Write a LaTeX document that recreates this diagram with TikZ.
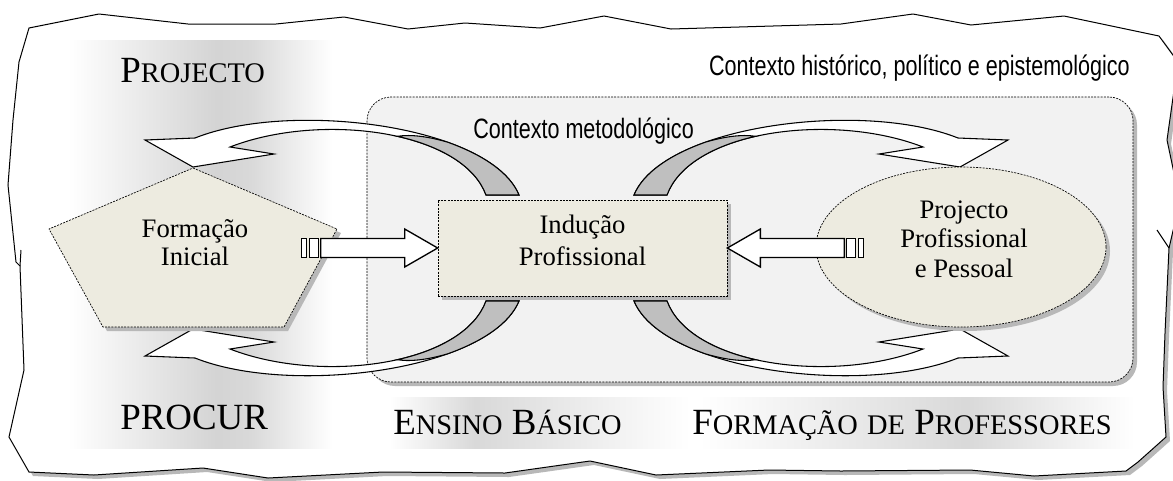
\documentclass[tikz,border=0pt]{standalone}
\usepackage{fontspec}
\setmainfont{Liberation Serif}
\newfontfamily\ctxfont[FakeStretch=0.77]{Liberation Sans}
\usetikzlibrary{shapes.geometric,shadows}
\definecolor{nodefill}{RGB}{237,235,224}
\definecolor{ctxfill}{RGB}{242,242,242}
\pgfdeclarehorizontalshading{sideband}{100bp}{color(0bp)=(white); color(27bp)=(white); color(54bp)=(black!17); color(60bp)=(black!15); color(75bp)=(white); color(100bp)=(white)}
\pgfdeclarehorizontalshading{bandA}{100bp}{color(0bp)=(white); color(26bp)=(white); color(40bp)=(black!15); color(75bp)=(white); color(100bp)=(white)}
\pgfdeclarehorizontalshading{bandB}{100bp}{color(0bp)=(white); color(26bp)=(white); color(56bp)=(black!15); color(75bp)=(white); color(100bp)=(white)}
\newcommand{\capsc}[2]{{\fontsize{27.7}{30}\selectfont #1}{\fontsize{21.3}{30}\selectfont #2}}
\newcommand{\ribbonarrow}[1]{% transform of the scope
\begin{scope}[#1]
  \draw[ribbon] (145,140) -- (195,138) .. controls (290,100) and (490,125) .. (519,195)
    -- (486,195) .. controls (462,130) and (320,112) .. (230,147) -- (274,154) -- (193,167) -- cycle;
  \draw[ribbonback] (397.4,136.3) .. controls (440.5,146) and (475.2,165.75) .. (486,195)
    -- (519,195) .. controls (509.7,172.6) and (482.9,154.8) .. (447.7,142.2)
    .. controls (430,137) and (412,134) .. cycle;
\end{scope}
}
\tikzset{barrow/.pic={
  \draw[blockarrow] (0,0) -- (-33,-19) -- (-33,-9.5) -- (-117,-9.5) -- (-117,9.5) -- (-33,9.5) -- (-33,19) -- cycle;
  \draw[blockarrow] (-119,-9.5) rectangle (-128,9.5);
  \draw[blockarrow] (-131,-9.5) rectangle (-136,9.5);
}}

\begin{document}
\begin{tikzpicture}[x=0.75pt,y=-0.75pt,
  dotline/.style={draw=black,line width=0.5pt,dash pattern=on 1.5pt off 0.9pt},
  nodeshadow/.style={drop shadow={shadow xshift=3pt,shadow yshift=-3pt,fill=black!28,opacity=1}},
  nodetext/.style={font=\fontsize{20}{23.5}\selectfont,align=center,inner sep=0pt},
  ctxtext/.style={font=\ctxfont\fontsize{21}{24}\selectfont,inner sep=0pt},
  captext/.style={font=\fontsize{27.7}{30}\selectfont,inner sep=0pt},
  ribbon/.style={draw=black,line width=0.8pt,fill=white,line join=miter},
  ribbonback/.style={draw=black,line width=0.8pt,fill=black!25},
  blockarrow/.style={draw=black,line width=1pt,fill=white}]
\useasboundingbox (0,0) rectangle (1173,480);

% torn paper frame
\draw[fill=white,line width=0.75pt,nodeshadow]
  (29,28) -- (99,14) -- (188,24) -- (276,24) -- (344,17) -- (408,29) -- (465,23) -- (540,28)
  -- (604,16) -- (671,29) -- (841,24) -- (913,14) -- (971,25) -- (1064,16) -- (1159,36)
  -- (1178,62) -- (1167,140) -- (1178,192) -- (1176,218) -- (1169,248) -- (1165,333)
  -- (1163,387) -- (1166,437) -- (1138,462) -- (1126,471) -- (1034,476) -- (970,470)
  -- (841,471) -- (769,470) -- (656,475) -- (590,461) -- (505,473) -- (383,472) -- (268,478)
  -- (203,468) -- (94,475) -- (29,472) -- (9,437) -- (24,370) -- (20,266) -- (16,262)
  -- (8,185) -- (13,120) -- (19,62) -- cycle;
\draw[line width=0.75pt] (21,250) -- (20,266);
\draw[line width=0.75pt] (1157,230) -- (1169,248);

% gradient bands
\shade[shading=sideband] (57,40) rectangle (333,448);
\shade[shading=bandA] (383,397) rectangle (690,448);
\shade[shading=bandB] (690,397) rectangle (1135,448);

\node[dotline,fill=ctxfill,rounded corners=18pt,nodeshadow,minimum width=574.5pt,
  minimum height=213.75pt] (met) at (750,239.5) {};
\node[ctxtext,anchor=base west] (ctxmet) at (473,138) {Contexto metodológico};
\node[ctxtext,anchor=base east] (ctxhist) at (1130,75) {Contexto histórico, político e epistemológico};

\ribbonarrow{}
\ribbonarrow{shift={(0,496)},yscale=-1}
\ribbonarrow{shift={(1153,0)},xscale=-1}
\ribbonarrow{shift={(1153,496)},scale=-1}

\draw[dotline,fill=nodefill,nodeshadow] (193,168) -- (337,229) -- (284,327) -- (103,327) -- (49,229) -- cycle;
\node[nodetext,font=\fontsize{20}{21}\selectfont] (fi) at (195,243) {Formação\\Inicial};

\node[dotline,fill=nodefill,nodeshadow,minimum width=216.75pt,minimum height=72pt] (ind) at (582.5,248) {};
\node[nodetext,font=\fontsize{20}{24}\selectfont] (indtxt) at (582.5,240) {Indução\\Profissional};

\node[ellipse,dotline,fill=nodefill,nodeshadow,minimum width=217.5pt,minimum height=120pt] (ppp) at (961,247) {};
\node[nodetext,font=\fontsize{20}{22}\selectfont] (ppptxt) at (964,239) {Projecto\\Profissional\\e Pessoal};

\pic at (ind.west) {barrow};
\pic[xscale=-1] at (ind.east) {barrow};

\node[captext,anchor=base west] (proj) at (120,82) {\capsc{P}{ROJECTO}};
\node[captext,anchor=base west] (procur) at (120,429) {PROCUR};
\node[captext,anchor=base west] (ensino) at (393,434) {\capsc{E}{NSINO} \capsc{B}{ÁSICO}};
\node[captext,anchor=base west] (formprof) at (692,434) {\capsc{F}{ORMAÇÃO} {\fontsize{21.3}{30}\selectfont DE} \capsc{P}{ROFESSORES}};
\end{tikzpicture}
\end{document}
